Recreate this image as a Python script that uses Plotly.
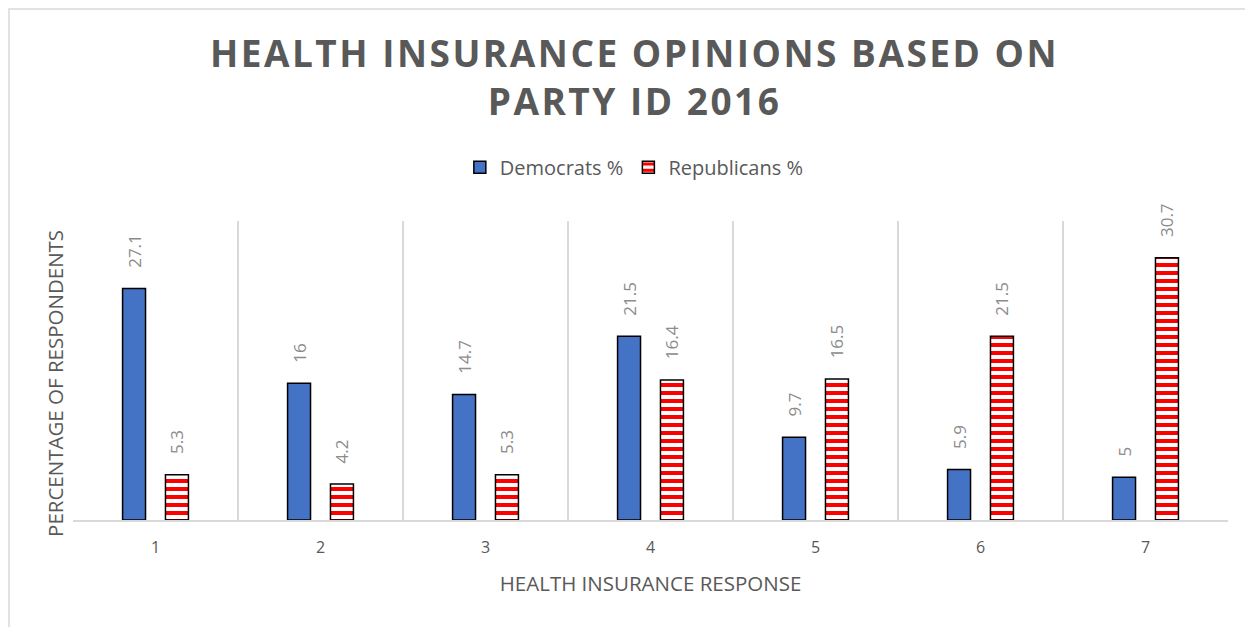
import plotly.graph_objects as go

# Data
RESPONSES = [1, 2, 3, 4, 5, 6, 7]
DEMOCRATS = [27.1, 16, 14.7, 21.5, 9.7, 5.9, 5]
REPUBLICANS = [5.3, 4.2, 5.3, 16.4, 16.5, 21.5, 30.7]

GRAY_TEXT = '#595959'
LABEL_GRAY = '#8c8c8c'
GRID = '#d9d9d9'
PAD = '\u00a0' * 4  # pushes rotated labels up off the bar tops

fig = go.Figure()

fig.add_trace(go.Bar(
    x=RESPONSES, y=DEMOCRATS, name='Democrats %',
    marker=dict(color='#4472C4', line=dict(color='black', width=1.5)),
    texttemplate=PAD + '%{y}', textposition='outside', textangle=-90,
    textfont=dict(size=17, color=LABEL_GRAY), cliponaxis=False, constraintext='none',
))

fig.add_trace(go.Bar(
    x=RESPONSES, y=REPUBLICANS, name='Republicans %',
    marker=dict(color='white', line=dict(color='black', width=1.5),
                pattern=dict(shape='-', fgcolor='#FF0000', bgcolor='white',
                             size=8, solidity=0.5, fillmode='replace')),
    texttemplate=PAD + '%{y}', textposition='outside', textangle=-90,
    textfont=dict(size=17, color=LABEL_GRAY), cliponaxis=False, constraintext='none',
))

TITLE = ('<span style="letter-spacing:2.5px">HEALTH INSURANCE OPINIONS BASED ON</span><br>'
         '<span style="letter-spacing:2.5px">PARTY ID 2016</span>')

# plot area: 65..1220 wide, 213..512 tall inside the figure
fig.update_layout(
    width=1253, height=627,
    margin=dict(l=65, r=33, t=213, b=115),
    paper_bgcolor='white', plot_bgcolor='white',
    font=dict(family='Open Sans', color=GRAY_TEXT),
    barmode='group', bargap=0.48, bargroupgap=0.465,
    title=dict(text=TITLE, x=0.5, xanchor='center', y=0.906, yanchor='middle',
               font=dict(family='Open Sans', size=37, weight='bold', color=GRAY_TEXT)),
    legend=dict(orientation='h', x=0.486, xanchor='center', y=1.18, yanchor='middle',
                font=dict(size=20, color=GRAY_TEXT), itemwidth=30,
                traceorder='normal'),
    showlegend=True,
)

fig.update_xaxes(
    range=[0.5, 7.5], tickvals=RESPONSES, ticks='', showgrid=False, automargin=False,
    showline=True, linecolor=GRID, linewidth=1.5, ticklabelstandoff=12,
    tickfont=dict(size=16, color=GRAY_TEXT),
    minor=dict(tickvals=[0.5, 1.5, 2.5, 3.5, 4.5, 5.5, 6.5, 7.5],
               showgrid=True, gridcolor=GRID, gridwidth=1.5, ticks=''),
    title=dict(text='HEALTH INSURANCE RESPONSE', font=dict(size=20.5, color=GRAY_TEXT),
               standoff=20),
)

fig.update_yaxes(
    range=[0, 35], showticklabels=False, showgrid=False, zeroline=False, ticks='',
    automargin=False,
)

# y title sits a little below the plot-area middle, as in the spreadsheet
fig.add_annotation(text='PERCENTAGE OF RESPONDENTS', textangle=-90, showarrow=False,
                   xref='paper', yref='paper', x=-18 / 1155, y=0.455,
                   xanchor='center', yanchor='middle',
                   font=dict(size=20.5, color=GRAY_TEXT))

# light chart-area border like the spreadsheet frame
fig.add_shape(type='rect', xref='paper', yref='paper',
              x0=-64 / 1155, x1=1.05, y0=-0.5, y1=1 + 212 / 299,
              line=dict(color=GRID, width=1.5), layer='below')

fig.write_html('out.html')
